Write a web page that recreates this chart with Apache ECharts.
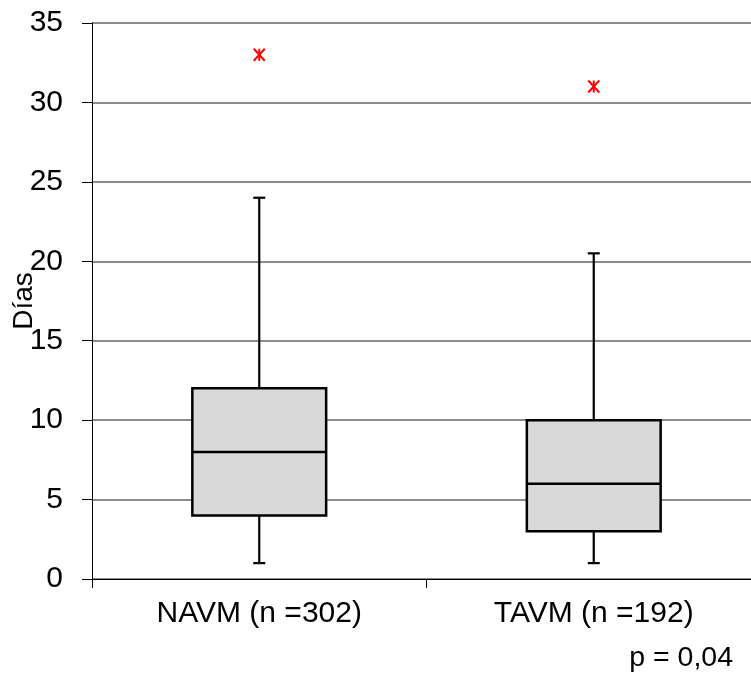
<!DOCTYPE html>
<html>
<head>
<meta charset="utf-8">
<script src="https://cdn.jsdelivr.net/npm/echarts@6/dist/echarts.min.js"></script>
<style>
html,body{margin:0;padding:0;background:#fff;}
#chart{width:751px;height:673px;}
</style>
</head>
<body>
<div id="chart"></div>
<script>
var categories = ['NAVM (n =302)', 'TAVM (n =192)'];
var mins    = [1, 1];
var q1s     = [4, 3];
var medians = [8, 6];
var q3s     = [12, 10];
var maxs    = [24, 20.5];
var outliers = [[0, 33], [1, 31]];
var yTicks = [0, 5, 10, 15, 20, 25, 30, 35];
var yName = 'Días';
var pText = 'p = 0,04';

var FONT = 'Arial, "Liberation Sans", sans-serif';
var FS = 30;

var boxData = categories.map(function (c, i) {
  return [i, mins[i], q1s[i], medians[i], q3s[i], maxs[i]];
});

var chart = echarts.init(document.getElementById('chart'), null, {renderer: 'canvas'});
chart.setOption({
  animation: false,
  backgroundColor: '#ffffff',
  grid: {left: 92, right: -10, top: 23, bottom: 94, outerBoundsMode: 'none', containLabel: false},
  xAxis: {
    type: 'category',
    data: categories,
    boundaryGap: true,
    axisLine: {show: true, lineStyle: {color: '#000', width: 1}},
    axisTick: {show: true, length: 9, alignWithLabel: false, lineStyle: {color: '#000', width: 1}},
    axisLabel: {color: '#000', fontSize: FS, fontFamily: FONT, margin: 20},
    splitLine: {show: false}
  },
  yAxis: {
    type: 'value',
    min: 0, max: 35, interval: 5,
    name: yName,
    nameLocation: 'middle',
    nameGap: 54,
    nameRotate: 90,
    nameMoveOverlap: false,
    nameTextStyle: {color: '#000', fontSize: 28, fontFamily: FONT},
    axisLine: {show: true, lineStyle: {color: '#000', width: 1}},
    axisTick: {show: true, length: 10, inside: false, lineStyle: {color: '#000', width: 1}},
    axisLabel: {color: '#000', fontSize: FS, fontFamily: FONT, margin: 29,
      formatter: function (v) { return yTicks.indexOf(v) >= 0 ? String(v) : ''; }},
    splitLine: {show: true, lineStyle: {color: '#8c8c8c', width: 2}}
  },
  graphic: [{
    type: 'text',
    right: 18,
    top: 644,
    style: {text: pText, fill: '#000', font: '28.5px ' + FONT}
  }],
  series: [{
    type: 'custom',
    data: boxData,
    encode: {x: 0, y: [1, 2, 3, 4, 5]},
    renderItem: function (params, api) {
      var cat = api.value(0);
      var band = api.size([1, 0])[0];
      var bw = band * 0.4;
      var capW = 12;
      var pMin = api.coord([cat, api.value(1)]);
      var pQ1 = api.coord([cat, api.value(2)]);
      var pMed = api.coord([cat, api.value(3)]);
      var pQ3 = api.coord([cat, api.value(4)]);
      var pMax = api.coord([cat, api.value(5)]);
      var cx = pMed[0];
      var ls = {stroke: '#000', lineWidth: 2.2};
      return {
        type: 'group',
        children: [
          {type: 'line', shape: {x1: cx, y1: pQ3[1], x2: cx, y2: pMax[1]}, style: ls},
          {type: 'line', shape: {x1: cx - capW / 2, y1: pMax[1], x2: cx + capW / 2, y2: pMax[1]}, style: ls},
          {type: 'line', shape: {x1: cx, y1: pQ1[1], x2: cx, y2: pMin[1]}, style: ls},
          {type: 'line', shape: {x1: cx - capW / 2, y1: pMin[1], x2: cx + capW / 2, y2: pMin[1]}, style: ls},
          {type: 'rect', shape: {x: cx - bw / 2, y: pQ3[1], width: bw, height: pQ1[1] - pQ3[1]},
            style: {fill: '#d9d9d9', stroke: '#000', lineWidth: 2.5}},
          {type: 'line', shape: {x1: cx - bw / 2, y1: pMed[1], x2: cx + bw / 2, y2: pMed[1]}, style: {stroke: '#000', lineWidth: 2.5}}
        ]
      };
    }
  }, {
    type: 'custom',
    data: outliers,
    encode: {x: 0, y: 1},
    renderItem: function (params, api) {
      var p = api.coord([api.value(0), api.value(1)]);
      var h = 6, w = 5.5;
      var st = {stroke: '#ff0000', lineWidth: 2};
      return {
        type: 'group',
        children: [
          {type: 'line', shape: {x1: p[0], y1: p[1] - h, x2: p[0], y2: p[1] + h}, style: st},
          {type: 'line', shape: {x1: p[0] - w, y1: p[1] - h, x2: p[0] + w, y2: p[1] + h}, style: st},
          {type: 'line', shape: {x1: p[0] - w, y1: p[1] + h, x2: p[0] + w, y2: p[1] - h}, style: st}
        ]
      };
    }
  }]
});
</script>
</body>
</html>
